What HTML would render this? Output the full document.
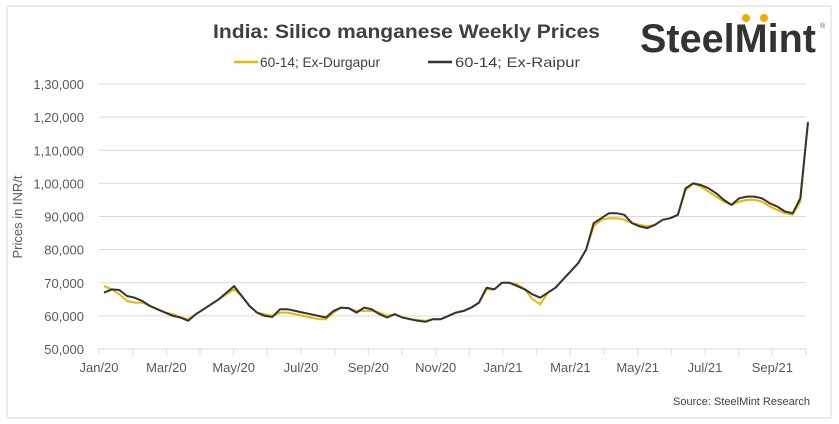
<!DOCTYPE html>
<html><head><meta charset="utf-8"><style>
html,body{margin:0;padding:0;background:#fff;}
svg{display:block;font-family:"Liberation Sans",sans-serif;}
</style></head><body>
<svg id="chart" width="839" height="424" viewBox="0 0 839 424">
<rect x="7" y="6" width="824" height="412" fill="#fff" stroke="#d9d9d9"/>
<text x="213" y="38" textLength="387" lengthAdjust="spacingAndGlyphs" font-size="19" font-weight="bold" fill="#404040">India: Silico manganese Weekly Prices</text>
<g>
<text x="640" y="52" textLength="176" lengthAdjust="spacingAndGlyphs" font-size="40" font-weight="bold" fill="#333">SteelMint</text>
<circle cx="746" cy="18" r="4" fill="#f5a800"/>
<circle cx="764" cy="18" r="4" fill="#f5a800"/>
<text x="820" y="28" font-size="7" fill="#555">®</text>
</g>
<g>
<line x1="234" y1="62" x2="258" y2="62" stroke="#e6b800" stroke-width="2.5"/>
<text x="260" y="67" textLength="120" lengthAdjust="spacingAndGlyphs" font-size="14" fill="#404040">60-14; Ex-Durgapur</text>
<line x1="428" y1="62" x2="452" y2="62" stroke="#333" stroke-width="2.5"/>
<text x="455" y="67" textLength="125" lengthAdjust="spacingAndGlyphs" font-size="14" fill="#404040">60-14; Ex-Raipur</text>
</g>
<text transform="translate(22,217) rotate(-90)" text-anchor="middle" font-size="13" fill="#595959">Prices in INR/t</text>
<text x="810" y="405" text-anchor="end" font-size="11" fill="#404040">Source: SteelMint Research</text>
<g id="grid"></g><g id="yticks"></g><g id="xaxis"></g><g id="series"></g>
</svg>
<script>
const yTickValues=[50000,60000,70000,80000,90000,100000,110000,120000,130000];
const yTickLabels=["50,000","60,000","70,000","80,000","90,000","1,00,000","1,10,000","1,20,000","1,30,000"];
const monthLabels=["Jan/20","","Mar/20","","May/20","","Jul/20","","Sep/20","","Nov/20","","Jan/21","","Mar/21","","May/21","","Jul/21","","Sep/21",""];
const raipur=[67,68,67.8,66,65.5,64.5,63,62,61,60,59.5,58.5,60.5,62,63.5,65,67,69,66,63,61,60,59.7,62,62,61.5,61,60.5,60,59.5,61.5,62.5,62.3,61,62.5,62,60.5,59.5,60.5,59.5,59,58.5,58.2,59,59,60,61,61.5,62.5,64,68.5,68,70,70,69,68,66.5,65.5,67,68.5,71,73.5,76,80,88,89.5,91,91,90.5,88,87,86.5,87.5,89,89.5,90.5,98.5,100,99.5,98.5,97,95,93.5,95.5,96,96,95.5,94,93,91.5,91,95.5,118.5];
const durgapur=[69,68,66.5,64.5,64,64,63,62,61,60.5,59.5,59,60.5,62,63.5,65,66.5,68,66,63,61,60.5,60,61,61,60.5,60,59.5,59,59,61,62.5,62.3,61.5,61.5,61.5,61,60,60.5,59.5,59,58.8,58.5,59,59,60,61,61.5,62.5,64,68,68,70,70,69.5,68,65,63.5,67,68.5,71,73.5,76,80,87,89,89.5,89.5,89,88,87.5,87,87.5,89,89.5,90.5,98,100,99,97.5,96,94.5,93.5,94.5,95,95,94.5,93,92,91,90.5,94.5,118.5];
const NS='http://www.w3.org/2000/svg';
const X0=99,X1=806,MW=(X1-X0)/21;
const PX0=104,PX1=808;
function yS(v){return 349-(v-50000)/80000*265;}
function xS(i,n){return PX0+(PX1-PX0)*i/(n-1);}
function mk(tag,attrs,parent){const e=document.createElementNS(NS,tag);for(const k in attrs)e.setAttribute(k,attrs[k]);parent.appendChild(e);return e;}
const grid=document.getElementById('grid'),yt=document.getElementById('yticks'),xa=document.getElementById('xaxis'),sg=document.getElementById('series');
yTickValues.forEach((v,i)=>{
 if(i>0){const l=mk('line',{x1:X0,x2:X1,y1:yS(v),y2:yS(v),stroke:'#d9d9d9','stroke-width':1},grid);
 
 }
 const t=mk('text',{x:84,y:yS(v)+5,'text-anchor':'end','font-size':13,fill:'#595959'},yt);
 t.textContent=yTickLabels[i];
 
 
});
const ax=mk('line',{x1:X0,x2:X1,y1:349,y2:349,stroke:'#d9d9d9','stroke-width':1},xa);


for(let m=0;m<=monthLabels.length;m++){
 const x=X0+m*MW;
 const tk=mk('line',{x1:x,x2:x,y1:349,y2:355,stroke:'#d9d9d9'},xa);
 
 
 if(m<monthLabels.length&&monthLabels[m]){
  const t=mk('text',{x:x,y:372,'text-anchor':'middle','font-size':13,fill:'#595959'},xa);
  t.textContent=monthLabels[m];
  
  
 }
}
function line(arr,color,name){
 const pts=arr.map((v,i)=>xS(i,arr.length).toFixed(1)+','+yS(v*1000).toFixed(1)).join(' ');
 const p=mk('polyline',{points:pts,fill:'none',stroke:color,'stroke-width':2,'stroke-linejoin':'round'},sg);
 
 
}
line(durgapur,'#e6b800','series-durgapur');
line(raipur,'#333333','series-raipur');
</script>
</body></html>
